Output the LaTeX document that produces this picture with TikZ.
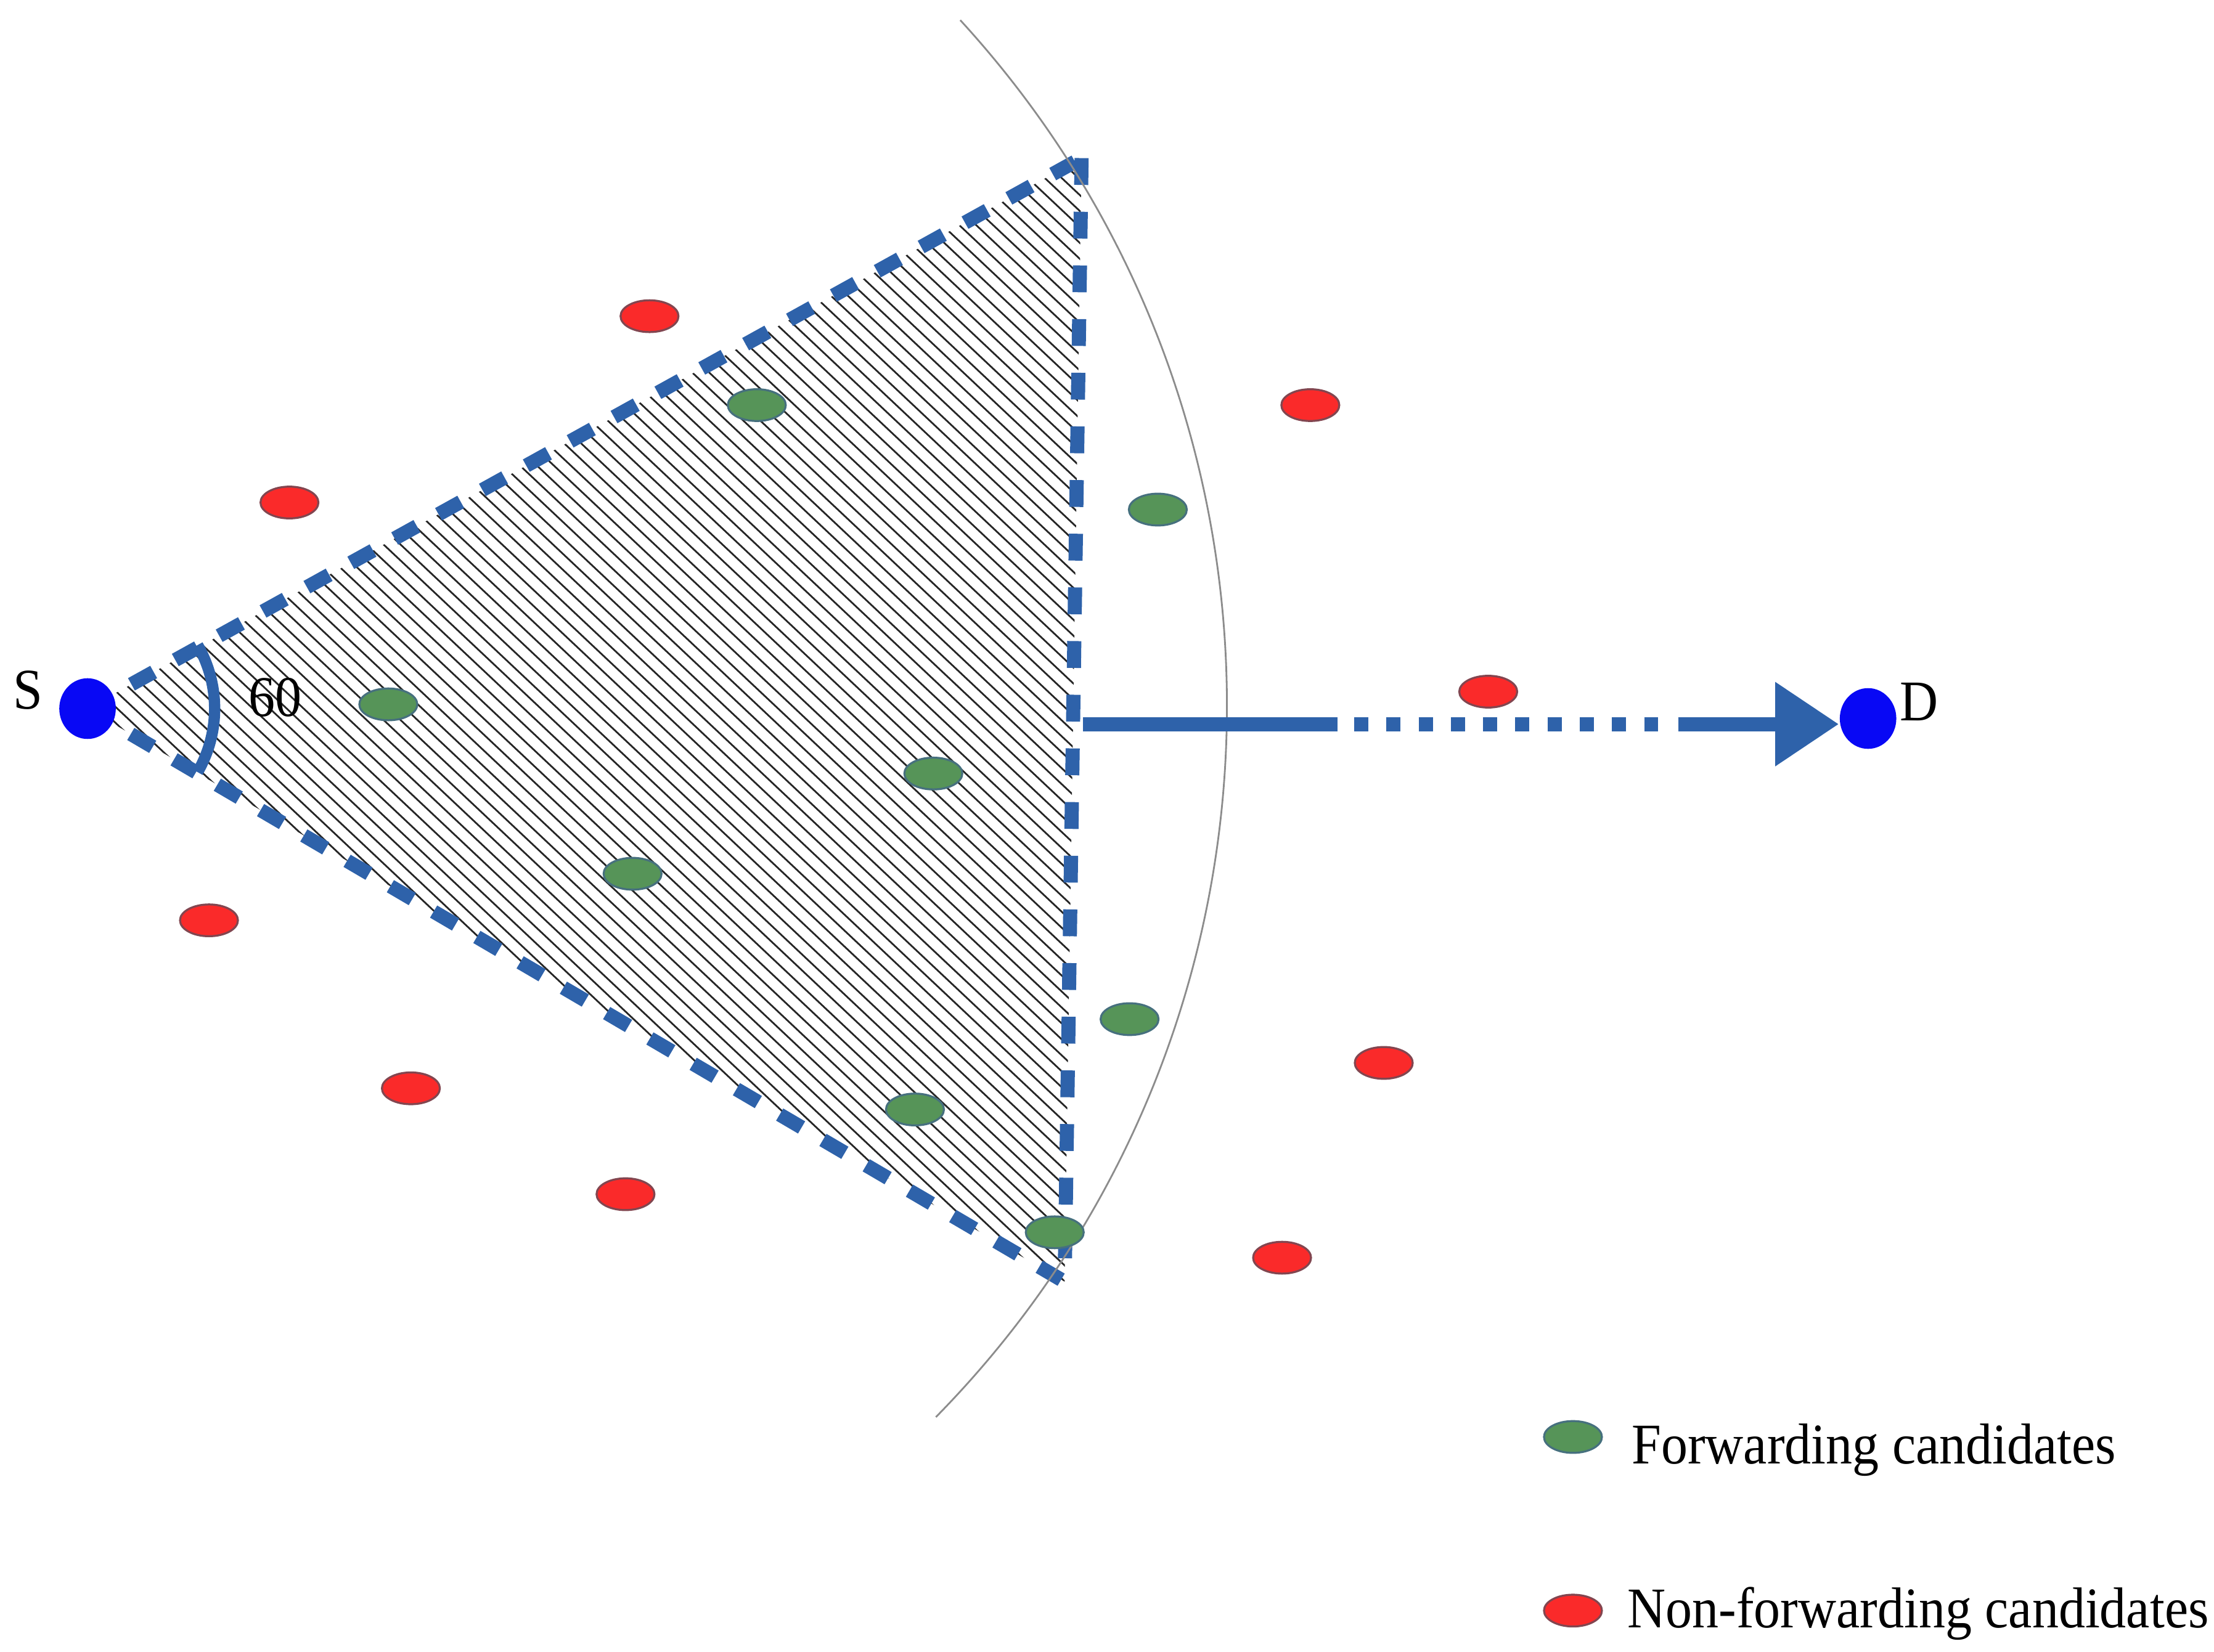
\documentclass[tikz,border=0pt]{standalone}
\usepackage{fontspec}
\setmainfont{Liberation Serif}[FakeStretch=0.92]
\usetikzlibrary{shapes.geometric,arrows.meta}
\definecolor{edgeblue}{RGB}{46,98,170}
\definecolor{fwdgreen}{RGB}{86,148,88}
\definecolor{fwdrim}{RGB}{70,112,126}
\definecolor{nfwdred}{RGB}{250,42,42}
\definecolor{nfwdrim}{RGB}{130,70,80}
\definecolor{endblue}{RGB}{8,8,245}
\begin{document}
\begin{tikzpicture}[x=0.01cm,y=-0.01cm,font=\fontsize{11.6}{14}\selectfont,
  fwd/.style={ellipse,draw=fwdrim,fill=fwdgreen,line width=0.4pt,minimum width=0.41cm,minimum height=0.225cm,inner sep=0pt},
  nfwd/.style={fwd,draw=nfwdrim,fill=nfwdred},
  endpt/.style={ellipse,fill=endblue,minimum width=0.4cm,minimum height=0.43cm,inner sep=0pt},
  sector/.style={edgeblue,line width=0.1cm,dash pattern=on 0.18cm off 0.175cm},
  hatch/.style={black!85,line width=0.35pt},
  flow/.style={edgeblue,line width=0.1cm,-{Triangle[length=0.45cm,width=0.57cm]},
    dash pattern=on 1.8cm off 0.12cm on 0.1cm off 0.128cm on 0.1cm off 0.128cm on 0.1cm off 0.128cm
    on 0.1cm off 0.128cm on 0.1cm off 0.128cm on 0.1cm off 0.128cm on 0.1cm off 0.128cm
    on 0.1cm off 0.128cm on 0.1cm off 0.128cm on 0.1cm off 0.14cm on 4cm off 0.1cm}]
\useasboundingbox (0,0) rectangle (1568,1170);
\coordinate (src) at (62,502);
\coordinate (top) at (766,112);
\coordinate (bot) at (754,908);
\coordinate (mid) at (767,513);
\begin{scope}
\clip (src)--(top)--(bot)--cycle;
\foreach \k in {-870,-858,...,670} \draw[hatch] (\k,0)--++(1200,1130);
\end{scope}
\draw[sector] (src)--(top);
\draw[sector] (src)--(bot);
\draw[sector,dash pattern=on 0.19cm off 0.19cm] (top)--(bot);
\draw[edgeblue,line width=0.08cm] (src)++(-30:90) arc[start angle=-30,end angle=30,radius=90];
\draw[black!45,line width=0.35pt] (150,500)++(-42.5:719) arc[start angle=-42.5,end angle=44.5,radius=719];
\foreach \x/\y [count=\i] in {536/287,820/361,275/499,661/548,448/619,800/722,648/786,747/873}
  \node[fwd] (f\i) at (\x,\y) {};
\foreach \x/\y [count=\i] in {460/224,928/287,205/356,1054/490,148/652,980/753,291/771,443/846,908/891}
  \node[nfwd] (r\i) at (\x,\y) {};
\node[endpt] (S) at (src) {};
\node[endpt] (D) at (1323,509) {};
\node[inner sep=0] (Slab) at (20,489) {S};
\node[inner sep=0] (Dlab) at (1359,497) {D};
\node[inner sep=0] (ang) at (195,494) {60};
\draw[flow] (mid)--(mid-|D.west);
\node[fwd] (lf) at (1114,1018) {};
\node[nfwd] (lr) at (1114,1141) {};
\node[anchor=base west,inner sep=0] (lft) at (1155,1037) {Forwarding candidates};
\node[anchor=base west,inner sep=0] (lrt) at (1152,1153) {Non-forwarding candidates};
\end{tikzpicture}
\end{document}
